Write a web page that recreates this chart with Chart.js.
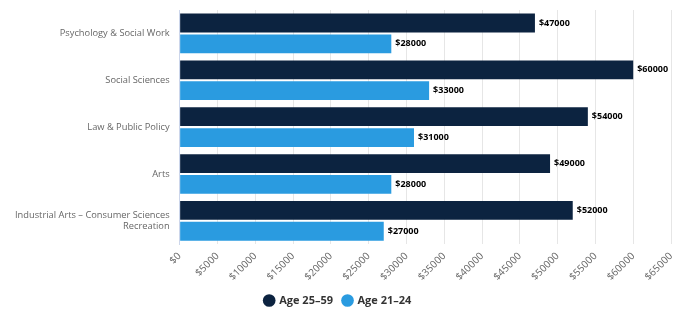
<!DOCTYPE html>
<html><head><meta charset="utf-8">
<script src="https://cdn.jsdelivr.net/npm/chart.js@4/dist/chart.umd.min.js"></script>
<style>html,body{margin:0;padding:0;background:#fff}#w{width:692px;height:321px}</style>
</head><body><div id="w"><canvas id="c"></canvas></div>
<script>
const categories = [
  "Psychology & Social Work",
  "Social Sciences",
  "Law & Public Policy",
  "Arts",
  ["Industrial Arts – Consumer Sciences", "Recreation"]
];
const seriesNames = ["Age 25–59", "Age 21–24"];
const age2559 = [47000, 60000, 54000, 49000, 52000];
const age2124 = [28000, 33000, 31000, 28000, 27000];
const xTickStep = 5000;
const xMax = 65000;

const labelPlugin = {
  id: 'vals',
  afterDatasetsDraw(chart) {
    const ctx = chart.ctx;
    ctx.save();
    ctx.font = 'bold 9px "Open Sans", sans-serif';
    ctx.fillStyle = '#000';
    ctx.textBaseline = 'middle';
    chart.data.datasets.forEach((ds, i) => {
      chart.getDatasetMeta(i).data.forEach((bar, j) => {
        ctx.fillText('$' + ds.data[j], bar.x + 4, bar.y);
      });
    });
    ctx.restore();
  }
};

new Chart(document.getElementById('c'), {
  type: 'bar',
  data: {
    labels: categories,
    datasets: [
      { label: seriesNames[0], data: age2559, backgroundColor: '#0c2340', borderWidth: 0 },
      { label: seriesNames[1], data: age2124, backgroundColor: '#2a9be0', borderWidth: 0 }
    ]
  },
  options: {
    indexAxis: 'y',
    responsive: true,
    maintainAspectRatio: false,
    animation: false,
    layout: { padding: { left: 5, right: 21, top: 10, bottom: 5 } },
    datasets: { bar: { categoryPercentage: 0.89, barPercentage: 0.9 } },
    plugins: {
      tooltip: { enabled: false },
      legend: {
        position: 'bottom',
        labels: {
          usePointStyle: true, pointStyle: 'circle', boxWidth: 9, boxHeight: 9,
          padding: 10, color: '#333',
          font: { family: '"Open Sans", sans-serif', size: 11, weight: 'bold' }
        }
      }
    },
    scales: {
      x: {
        min: 0, max: xMax,
        afterFit(s) { s.height = s.height - 4; },
        ticks: {
          stepSize: xTickStep, minRotation: 45, maxRotation: 45, color: '#666', padding: 6,
          font: { family: '"Open Sans", sans-serif', size: 10 },
          callback: v => '$' + v
        },
        grid: { color: '#e6e6e6', drawTicks: false },
        border: { display: false }
      },
      y: {
        afterFit(s) { s.paddingTop = 0; s.paddingBottom = 0; },
        ticks: { color: '#666', font: { family: '"Open Sans", sans-serif', size: 9.3 }, padding: 10 },
        grid: { display: false, drawTicks: false, tickLength: 0 },
        border: { display: true, color: '#ccd6eb' }
      }
    }
  },
  plugins: [labelPlugin]
});
</script></body></html>
